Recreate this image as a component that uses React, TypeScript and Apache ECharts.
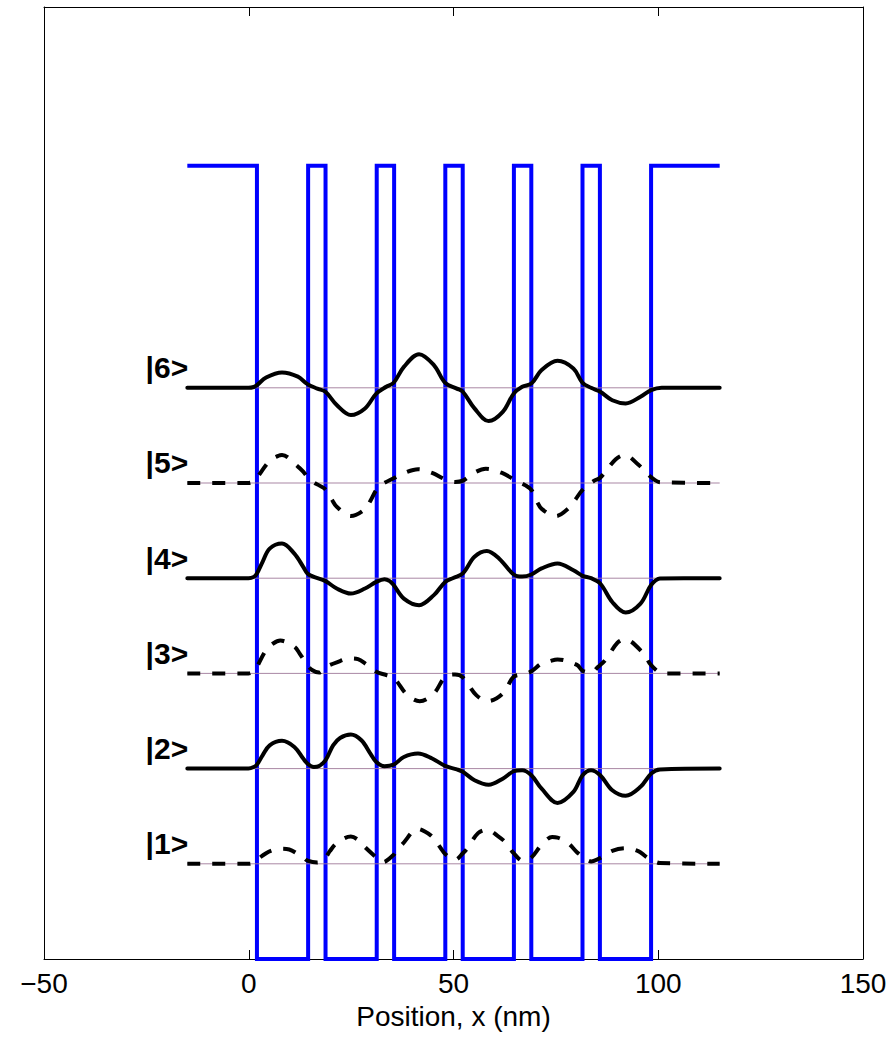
import React, { useEffect, useRef } from "react";
import * as echarts from "echarts";

// ---- data ----
const xTicks = [-50, 0, 50, 100, 150];
const barrierHeight = 300; // arbitrary energy units (meV-like)
const yMax = 360;
const structureStart = -15;
const structureEnd = 115;
const wellStarts = [2, 18.75, 35.5, 52.25, 69, 85.75];
const wellEnds = [14.5, 31.25, 48, 64.75, 81.5, 98.25];

const stateLabels = ["|1>", "|2>", "|3>", "|4>", "|5>", "|6>"];
const stateLevels = [36, 72, 108, 144, 180, 216];
const stateDashed = [true, false, true, false, true, false];
const labelX = -20;

const psi1: [number, number][] = [
  [-15, 0], [-0.07, 0], [1.22, 0.4], [2, 1.5], [4.24, 4.0], [5.97, 5.2], [7.69, 5.7], [9.9, 5.4],
  [12.0, 3.7], [13.3, 2.4], [14.33, 1.2], [16.75, 0.5], [18.73, 2.4], [19.76, 4.7], [21.49, 7.8],
  [24.94, 10.3], [26.67, 9.1], [27.97, 6.9], [31.15, 2.4], [32.7, 0.6], [35.38, 3.4], [36.2, 5.3],
  [37.5, 7.4], [41.33, 13.2], [43.0, 12.2], [44.78, 10.3], [46.9, 5.9], [47.97, 3.7], [50.39, 1.5],
  [52.28, 4.0], [53.4, 5.9], [56.0, 11.6], [58.15, 12.9], [61.0, 10.3], [62.9, 7.8], [64.7, 4.0],
  [67.0, 1.1], [69.02, 2.4], [71.52, 7.2], [74.1, 10.1], [75.4, 9.9], [78.0, 7.8], [80.14, 4.4],
  [81.52, 2.8], [83.59, 0.9], [85.83, 2.2], [88.77, 4.9], [92.04, 5.9], [95.24, 4.7], [96.9, 2.8],
  [98.26, 1.5], [100.41, 0.3], [115, 0],
];

const psi2: [number, number][] = [
  [-15, 0], [-0.07, 0], [1.22, 0.6], [2, 1.5], [3.38, 5.0], [5.11, 8.8], [8.12, 10.5], [11.14, 8.2],
  [13.3, 3.8], [14.33, 1.9], [15.89, 0.6], [17.18, 1.0], [18.73, 3.1], [20.6, 8.8], [22.3, 11.6],
  [24.94, 12.9], [27.5, 10.7], [29.7, 5.7], [31.15, 2.5], [33.14, 0.9], [35.38, 1.5], [37.88, 4.4],
  [41.33, 5.7], [44.78, 3.8], [47.97, 1.0], [50.82, -0.3], [52.28, -1.2], [55.13, -4.4],
  [58.58, -6.1], [62.03, -3.8], [64.7, -1.0], [66.77, -0.6], [69.02, -2.5], [71.52, -7.6],
  [75.4, -13.0], [79.28, -8.8], [81.52, -2.5], [83.59, -0.6], [85.83, -2.5], [88.77, -8.2],
  [92.04, -10.3], [95.67, -6.9], [98.26, -1.9], [100.41, -0.3], [115, 0],
];

const psi3: [number, number][] = [
  [-15, 0], [-0.07, 0], [1.22, 0.8], [2, 2.5], [4.24, 8.8], [5.97, 11.3], [7.69, 12.4], [11.14, 10.1],
  [12.4, 7.6], [14.33, 3.1], [15.45, 1.3], [17.18, 0.3], [18.73, 2.3], [21.49, 4.2], [24.94, 5.7],
  [26.67, 5.4], [28.39, 3.8], [31.15, 0.6], [33.57, -0.6], [35.38, -1.6], [38.74, -8.2],
  [41.76, -10.5], [45.21, -7.6], [47.97, -1.3], [50.39, -0.4], [52.28, -1.5], [55.56, -8.2],
  [58.41, -10.5], [62.03, -7.6], [64.7, -1.3], [67.2, -0.3], [69.02, 0.8], [71.52, 3.8],
  [73.24, 4.5], [75.4, 5.3], [80.14, 3.2], [81.52, 1.0], [83.59, 0.3], [85.32, 2.5], [87.04, 5.0],
  [90.06, 11.6], [91.79, 12.9], [96.53, 7.3], [98.26, 3.1], [101.3, 0], [115, 0],
];

const psi4: [number, number][] = [
  [-15, 0], [-0.07, 0], [1.22, 0.5], [2, 1.8], [3.38, 6.2], [5.11, 11.2], [8.12, 13.1], [11.14, 9.3],
  [13.3, 4.3], [14.33, 1.8], [15.89, 0.5], [18.73, -1.1], [21.49, -3.9], [24.94, -5.8], [28.39, -3.9],
  [31.15, -1.4], [33.14, -0.4], [34.43, -1.1], [35.38, -2.6], [37.88, -7.7], [41.59, -10.2],
  [45.21, -6.4], [47.97, -1.4], [49.95, 0.1], [52.28, 1.8], [55.13, 8.1], [58.15, 10.3],
  [61.17, 7.4], [64.7, 1.4], [66.77, 0.6], [69.02, 1.4], [71.52, 3.7], [75.4, 5.6], [79.28, 3.0],
  [81.52, 0.9], [83.59, 0], [85.83, -2.0], [88.77, -9.0], [92.04, -13.0], [95.67, -9.6],
  [98.26, -2.6], [100.41, -0.1], [115, 0],
];

const psi5: [number, number][] = [
  [-15, 0], [-0.07, 0], [1.22, 0.6], [2, 2.0], [5.11, 8.4], [7.26, 10.3], [8.12, 10.6], [12.0, 6.2],
  [13.3, 4.3], [14.33, 2.3], [15.89, 0.2], [17.18, -0.9], [18.73, -2.4], [20.3, -6.3], [21.49, -9.0],
  [24.94, -12.5], [28.39, -9.9], [29.69, -6.8], [31.15, -2.6], [32.27, -0.8], [35.38, 1.8],
  [37.88, 3.7], [41.33, 5.2], [44.78, 3.8], [47.97, 1.4], [50.39, 0.4], [52.28, 0.9], [54.96, 3.8],
  [57.89, 5.4], [61.86, 3.8], [64.7, 1.4], [67.46, -0.8], [69.02, -2.6], [70.31, -6.8],
  [71.61, -9.9], [74.97, -12.5], [78.5, -9.0], [79.71, -6.4], [81.52, -2.6], [84.28, 0.8],
  [85.75, 1.9], [89.63, 9.0], [91.79, 10.6], [95.24, 6.8], [98.26, 2.2], [100.5, 0.3], [115, 0],
];

const psi6: [number, number][] = [
  [-15, 0], [-0.07, 0], [1.22, 0.3], [2, 1.0], [4.24, 3.9], [8.12, 5.8], [12.0, 4.2], [14.33, 1.4],
  [16.75, -0.3], [18.73, -1.5], [21.49, -6.5], [24.94, -10.3], [28.39, -7.8], [31.15, -2.2],
  [33.57, 0.4], [35.38, 1.9], [37.88, 7.9], [41.59, 12.7], [45.21, 8.6], [47.97, 1.9],
  [50.82, -0.3], [52.28, -1.5], [55.13, -7.8], [58.58, -12.6], [62.03, -9.1], [64.7, -2.2],
  [66.77, 0.4], [69.02, 1.6], [71.52, 6.7], [75.4, 10.2], [79.28, 7.3], [81.52, 1.9], [83.59, 0],
  [85.83, -1.5], [88.77, -4.7], [92.04, -5.9], [95.67, -3.4], [98.26, -0.9], [100.84, 0], [115, 0],
];

const wavefunctions = [psi1, psi2, psi3, psi4, psi5, psi6];

const FONT = "'Liberation Sans', Arial, Helvetica, sans-serif";

function buildPotential(): [number, number][] {
  const pts: [number, number][] = [[structureStart, barrierHeight]];
  wellStarts.forEach((ws, i) => {
    const we = wellEnds[i];
    pts.push([ws, barrierHeight], [ws, 0], [we, 0], [we, barrierHeight]);
  });
  pts.push([structureEnd, barrierHeight]);
  return pts;
}

export default function App() {
  const ref = useRef<HTMLDivElement>(null);

  useEffect(() => {
    if (!ref.current) return;
    const chart = echarts.init(ref.current, undefined, { renderer: "svg" });

    const axisLineStyle = { color: "#000", width: 1 };
    const xCommon = {
      type: "value" as const,
      min: xTicks[0],
      max: xTicks[xTicks.length - 1],
      interval: xTicks[1] - xTicks[0],
      splitLine: { show: false },
      axisLine: { show: true, onZero: false, lineStyle: axisLineStyle },
      axisTick: { show: true, inside: true, length: 9, lineStyle: axisLineStyle },
    };
    const yCommon = {
      type: "value" as const,
      min: 0,
      max: yMax,
      splitLine: { show: false },
      axisLine: { show: true, onZero: false, lineStyle: axisLineStyle },
      axisTick: { show: false },
      axisLabel: { show: false },
    };

    const series: any[] = [];

    series.push({
      type: "line",
      name: "potential",
      data: buildPotential(),
      symbol: "none",
      lineStyle: { color: "#0000ff", width: 4, join: "miter" },
      z: 3,
      clip: true,
    });

    stateLevels.forEach((lvl, i) => {
      series.push({
        type: "line",
        name: "level" + (i + 1),
        data: [
          [structureStart, lvl],
          [structureEnd, lvl],
        ],
        symbol: "none",
        lineStyle: { color: "#a07a9a", width: 1, opacity: 0.9 },
        z: 4,
      });
      series.push({
        type: "line",
        name: stateLabels[i],
        data: wavefunctions[i].map(([x, p]) => [x, lvl + p]),
        symbol: "none",
        smooth: 0.35,
        lineStyle: {
          color: "#000",
          width: 4,
          type: stateDashed[i] ? [13, 12] : "solid",
          cap: stateDashed[i] ? "butt" : "round",
          join: "round",
        },
        z: 5,
      });
    });

    series.push({
      type: "scatter",
      name: "labels",
      data: stateLevels.map((lvl, i) => ({ value: [labelX, lvl], name: stateLabels[i] })),
      symbol: "circle",
      symbolSize: 0.01,
      itemStyle: { color: "#000" },
      label: {
        show: true,
        formatter: "{b}",
        position: "top",
        distance: 5,
        fontSize: 30,
        fontWeight: "bold",
        fontFamily: FONT,
        color: "#000",
        opacity: 1,
        textBorderWidth: 0,
      },
      emphasis: { disabled: true },
      z: 6,
    });

    chart.setOption({
      animation: false,
      backgroundColor: "#fff",
      grid: { left: 44, top: 7, width: 819, height: 952, containLabel: false },
      xAxis: [
        {
          ...xCommon,
          position: "bottom",
          name: "Position, x (nm)",
          nameLocation: "middle",
          nameGap: 43,
          nameTextStyle: { fontSize: 28, color: "#000", fontFamily: FONT },
          axisLabel: {
            show: true,
            fontSize: 28,
            color: "#000",
            margin: 10,
            fontFamily: FONT,
            formatter: (v: number) => String(v).replace("-", "\u2212"),
          },
        },
        {
          ...xCommon,
          position: "top",
          axisLabel: { show: false },
        },
      ],
      yAxis: [
        { ...yCommon, position: "left" },
        { ...yCommon, position: "right" },
      ],
      series,
    });

    return () => chart.dispose();
  }, []);

  return (
    <div
      ref={ref}
      style={{ position: "absolute", left: 0, top: 0, width: 893, height: 1040, background: "#fff" }}
    />
  );
}
